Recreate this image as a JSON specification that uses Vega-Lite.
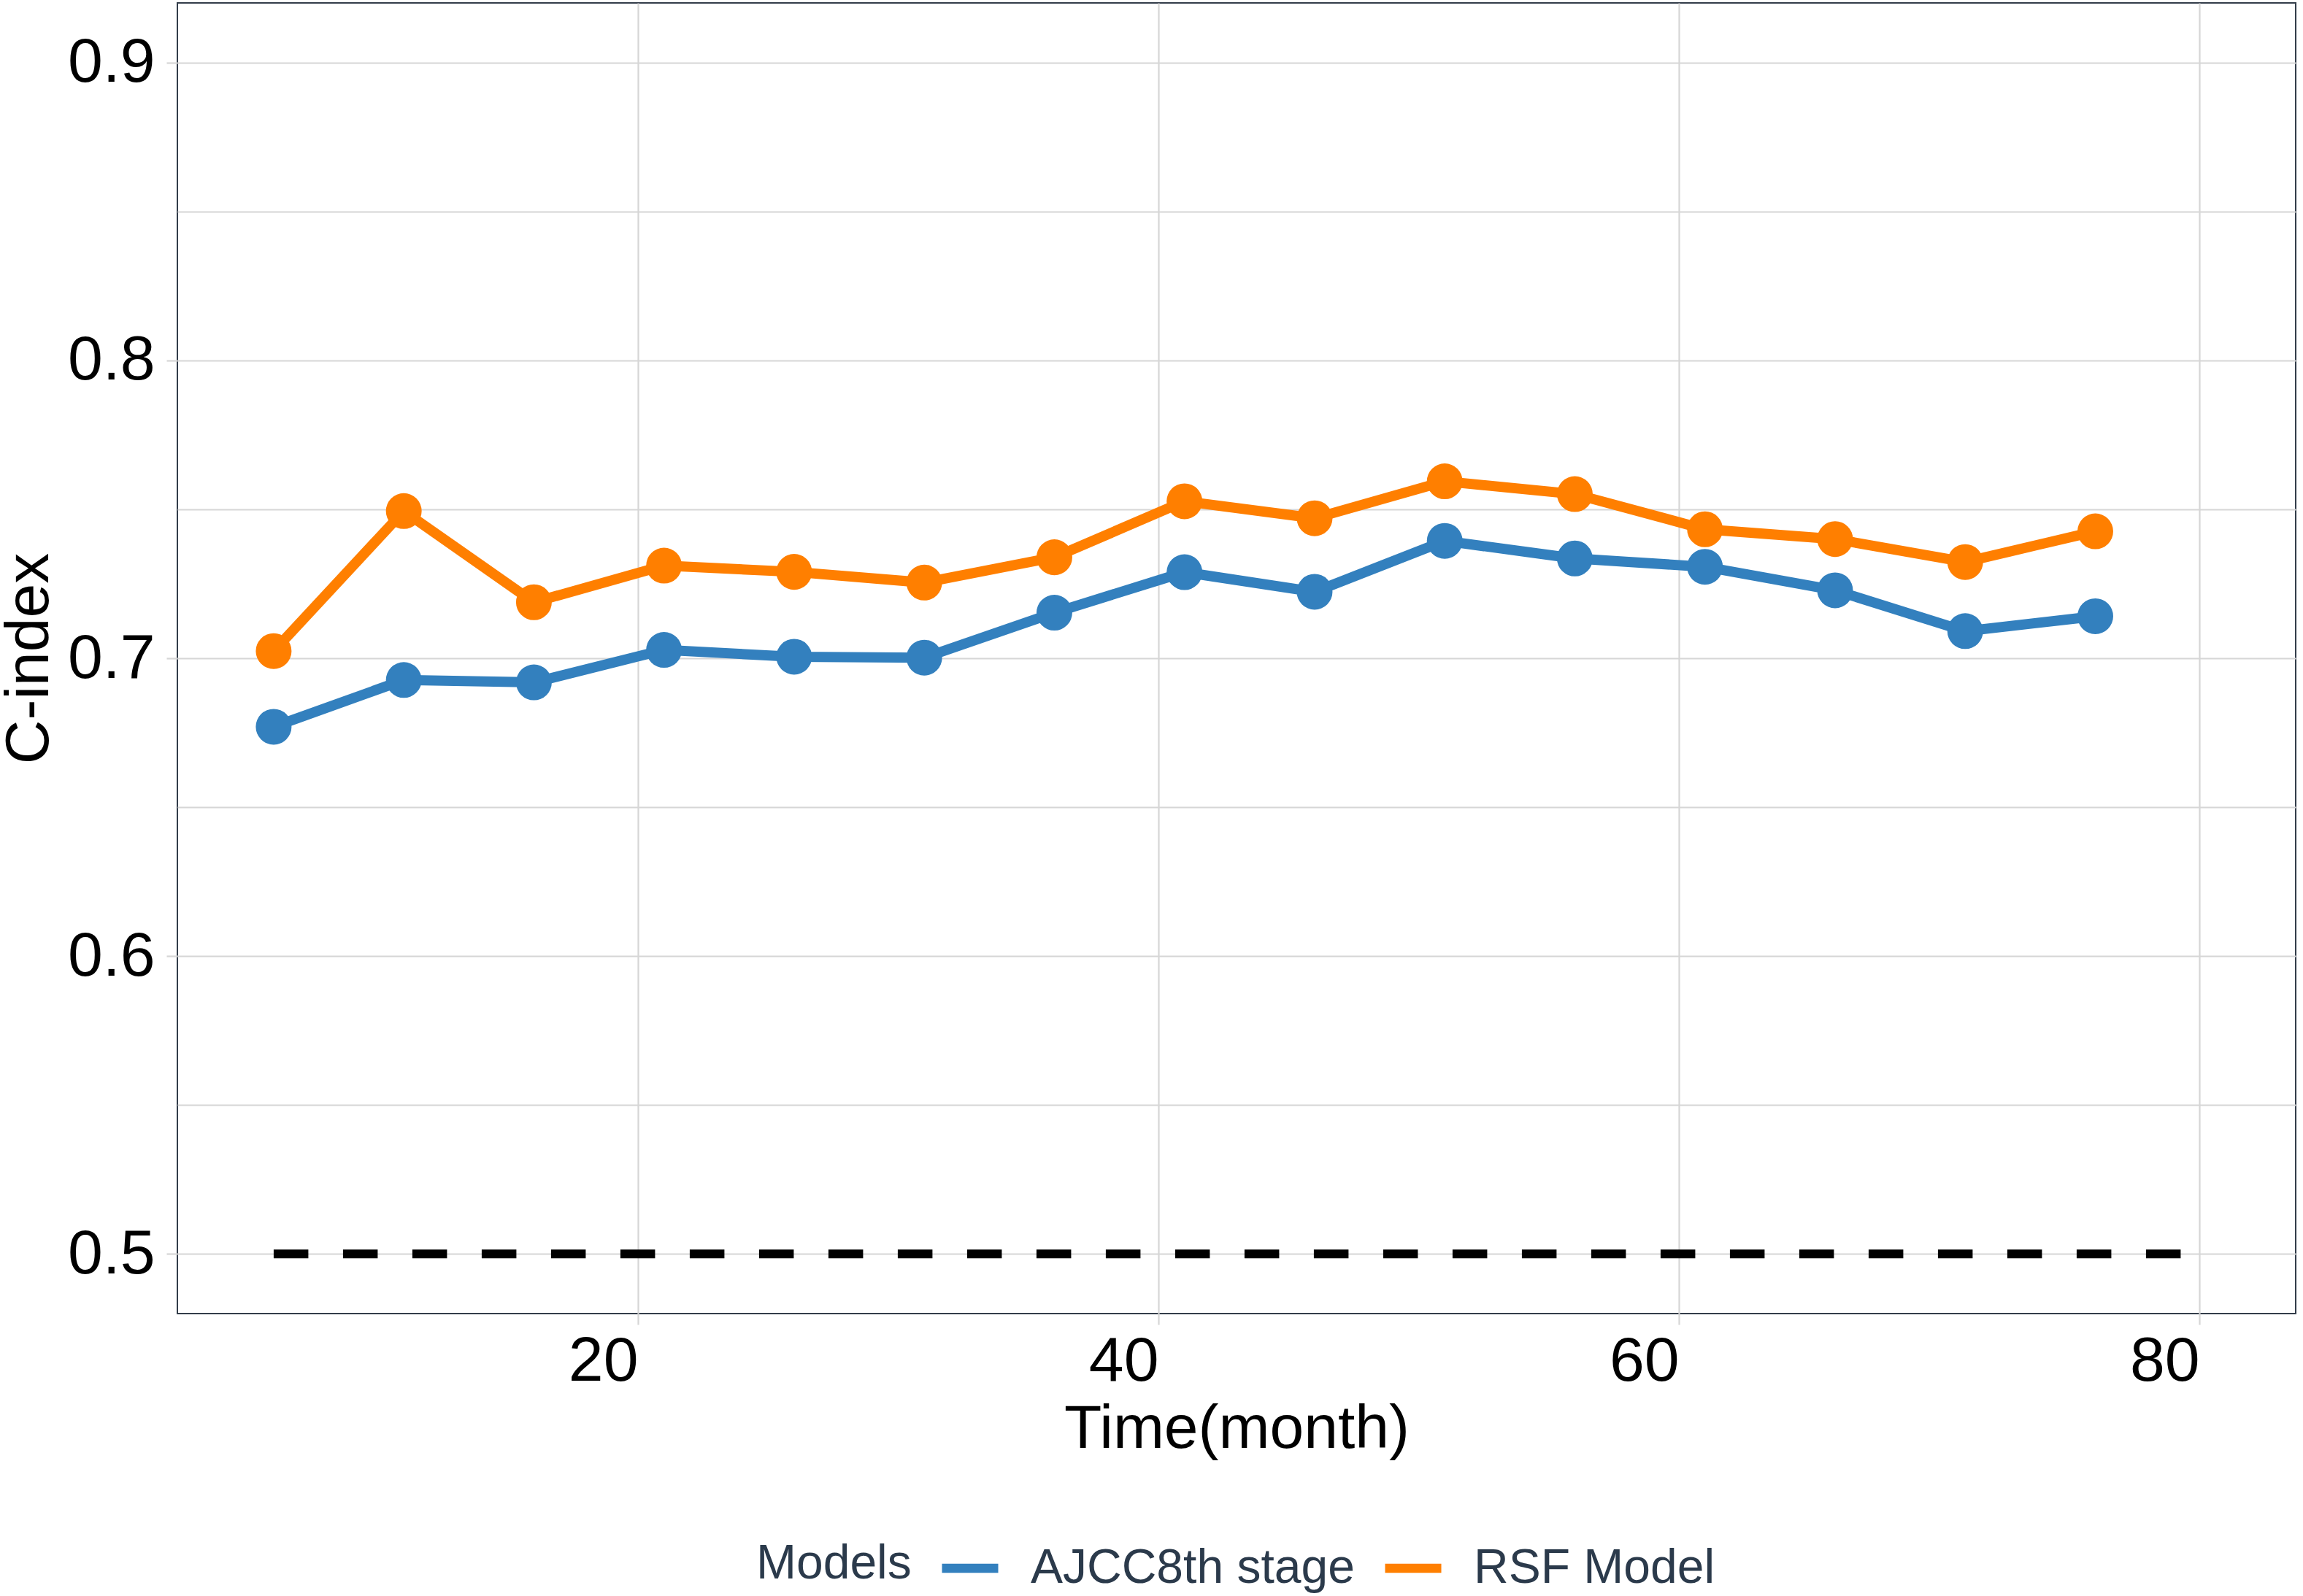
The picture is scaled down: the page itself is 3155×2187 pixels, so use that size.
{
  "$schema": "https://vega.github.io/schema/vega-lite/v6.json",
  "width": 2902,
  "height": 1796,
  "autosize": {"type": "none"},
  "padding": {"left": 243, "top": 4, "right": 10, "bottom": 387},
  "background": "white",
  "config": {
    "font": "Liberation Sans",
    "view": {"stroke": "#333D4A", "strokeWidth": 2},
    "axis": {
      "domain": false,
      "gridColor": "#D6D6D6",
      "gridWidth": 2.2,
      "tickColor": "#D6D6D6",
      "tickWidth": 2.2,
      "tickSize": 15,
      "labelFont": "Liberation Sans",
      "labelFontSize": 86,
      "labelColor": "black",
      "titleFont": "Liberation Sans",
      "titleFontSize": 84,
      "titleFontWeight": "normal",
      "titleColor": "black"
    }
  },
  "datasets": {
    "cidx": [
      {"time": 6, "cindex": 0.677, "model": "AJCC8th stage"},
      {"time": 11, "cindex": 0.6927, "model": "AJCC8th stage"},
      {"time": 16, "cindex": 0.6919, "model": "AJCC8th stage"},
      {"time": 21, "cindex": 0.7028, "model": "AJCC8th stage"},
      {"time": 26, "cindex": 0.7005, "model": "AJCC8th stage"},
      {"time": 31, "cindex": 0.7002, "model": "AJCC8th stage"},
      {"time": 36, "cindex": 0.7153, "model": "AJCC8th stage"},
      {"time": 41, "cindex": 0.7289, "model": "AJCC8th stage"},
      {"time": 46, "cindex": 0.7223, "model": "AJCC8th stage"},
      {"time": 51, "cindex": 0.7394, "model": "AJCC8th stage"},
      {"time": 56, "cindex": 0.7335, "model": "AJCC8th stage"},
      {"time": 61, "cindex": 0.7307, "model": "AJCC8th stage"},
      {"time": 66, "cindex": 0.7228, "model": "AJCC8th stage"},
      {"time": 71, "cindex": 0.7091, "model": "AJCC8th stage"},
      {"time": 76, "cindex": 0.7141, "model": "AJCC8th stage"},
      {"time": 6, "cindex": 0.7024, "model": "RSF Model"},
      {"time": 11, "cindex": 0.7494, "model": "RSF Model"},
      {"time": 16, "cindex": 0.7188, "model": "RSF Model"},
      {"time": 21, "cindex": 0.7311, "model": "RSF Model"},
      {"time": 26, "cindex": 0.729, "model": "RSF Model"},
      {"time": 31, "cindex": 0.7254, "model": "RSF Model"},
      {"time": 36, "cindex": 0.7339, "model": "RSF Model"},
      {"time": 41, "cindex": 0.7527, "model": "RSF Model"},
      {"time": 46, "cindex": 0.747, "model": "RSF Model"},
      {"time": 51, "cindex": 0.7594, "model": "RSF Model"},
      {"time": 56, "cindex": 0.7551, "model": "RSF Model"},
      {"time": 61, "cindex": 0.7433, "model": "RSF Model"},
      {"time": 66, "cindex": 0.74, "model": "RSF Model"},
      {"time": 71, "cindex": 0.7323, "model": "RSF Model"},
      {"time": 76, "cindex": 0.7426, "model": "RSF Model"}
    ],
    "ref": [
      {"time": 6, "cindex": 0.5},
      {"time": 80, "cindex": 0.5}
    ]
  },
  "encoding": {
    "x": {
      "field": "time",
      "type": "quantitative",
      "scale": {"domain": [2.3, 83.7], "nice": false, "zero": false},
      "axis": {
        "values": [20, 40, 60, 80],
        "title": "Time(month)",
        "labelAlign": "right",
        "labelPadding": 8,
        "titlePadding": 9,
        "labelFlush": false
      }
    },
    "y": {
      "field": "cindex",
      "type": "quantitative",
      "scale": {"domain": [0.48, 0.92], "nice": false, "zero": false},
      "axis": {
        "values": [0.5, 0.55, 0.6, 0.65, 0.7, 0.75, 0.8, 0.85, 0.9],
        "format": ".1f",
        "labelExpr": "round(datum.value * 100) % 10 == 0 ? datum.label : ''",
        "tickOpacity": {"condition": {"test": "round(datum.value * 100) % 10 != 0", "value": 0}, "value": 1},
        "title": "C-index",
        "labelPadding": 16,
        "titlePadding": 9
      }
    }
  },
  "layer": [
    {
      "data": {"name": "ref"},
      "mark": {"type": "line", "color": "black", "strokeWidth": 12, "strokeDash": [47.5, 47.5], "strokeCap": "butt"}
    },
    {
      "data": {"name": "cidx"},
      "mark": {"type": "line", "strokeWidth": 14},
      "encoding": {
        "color": {
          "field": "model",
          "type": "nominal",
          "scale": {"domain": ["AJCC8th stage", "RSF Model"], "range": ["#3380BE", "#FF7F00"]},
          "legend": {
            "orient": "none",
            "legendX": 793,
            "legendY": 2100,
            "direction": "horizontal",
            "title": "Models",
            "titleOrient": "left",
            "symbolType": "stroke",
            "symbolStrokeWidth": 12.5,
            "symbolSize": 5929,
            "labelFont": "Liberation Sans",
            "labelFontSize": 66,
            "labelColor": "#2B3A4B",
            "labelLimit": 1000,
            "titleFont": "Liberation Sans",
            "titleFontSize": 66,
            "titleFontWeight": "normal",
            "titleColor": "#2B3A4B",
            "titleLimit": 1000,
            "titlePadding": 35,
            "labelOffset": 38,
            "columnPadding": 16
          }
        }
      }
    },
    {
      "data": {"name": "cidx"},
      "mark": {"type": "circle", "size": 2400, "opacity": 1},
      "encoding": {
        "color": {"field": "model", "type": "nominal", "legend": null}
      }
    }
  ]
}
